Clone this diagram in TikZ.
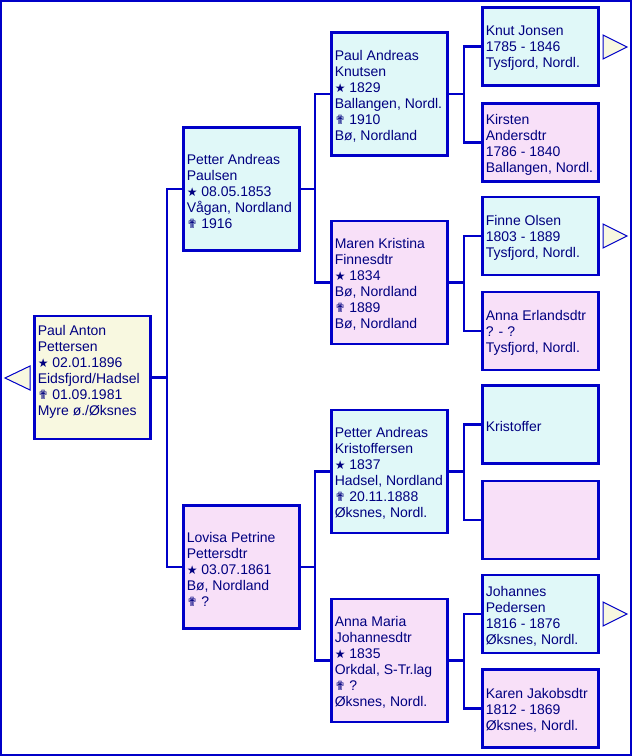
\documentclass[tikz,border=0pt]{standalone}
\usepackage{fontspec}
\setmainfont{Liberation Sans}
\newfontfamily\symfont{DejaVu Sans}
\definecolor{bordc}{HTML}{0000C8}
\definecolor{txtc}{HTML}{000080}
\definecolor{cyanf}{HTML}{E0F8F8}
\definecolor{pinkf}{HTML}{F8E0F8}
\definecolor{creamf}{HTML}{F8F8E0}
\newcommand{\bstar}{{\symfont\fontsize{9}{12}\selectfont ★}}
\newcommand{\dcross}{{\symfont\fontsize{9.5}{12}\selectfont ✟}}
\tikzset{
  bigbox/.style={draw=bordc, line width=1.9pt, minimum width=116*0.75pt, minimum height=123*0.75pt, inner sep=0pt},
  smallbox/.style={draw=bordc, line width=1.9pt, minimum width=116*0.75pt, minimum height=78*0.75pt, inner sep=0pt},
  ptxt/.style={anchor=west, align=left, inner sep=0pt, text=txtc, xshift=3.2pt, yshift=-1.5pt},
  conn/.style={draw=bordc, line width=1.9pt},
  tri/.style={draw=bordc, line width=0.75pt, fill=creamf},
}
\begin{document}
\begin{tikzpicture}[x=0.75pt, y=-0.75pt, font=\fontsize{10.5}{12}\selectfont]
\useasboundingbox (0,0) rectangle (632,756);
\draw[draw=bordc, line width=1.5pt] (1,1) rectangle (631,755);

% root
\node[bigbox, fill=creamf] (R) at (92.5,377.5) {};
\node[ptxt, yshift=6pt] (Rt) at (R.west) {Paul Anton\\Pettersen\\\bstar\ 02.01.1896\\Eidsfjord/Hadsel\\\dcross\ 01.09.1981\\Myre ø./Øksnes};

% generation 1
\node[bigbox, fill=cyanf] (F) at (241.5,189) {};
\node[ptxt] (Ft) at (F.west) {Petter Andreas\\Paulsen\\\bstar\ 08.05.1853\\Vågan, Nordland\\\dcross\ 1916};
\node[bigbox, fill=pinkf] (M) at (241.5,567) {};
\node[ptxt] (Mt) at (M.west) {Lovisa Petrine\\Pettersdtr\\\bstar\ 03.07.1861\\Bø, Nordland\\\dcross\ ?};

% generation 2
\node[bigbox, fill=cyanf] (FF) at (389.5,94) {};
\node[ptxt] (FFt) at (FF.west) {Paul Andreas\\Knutsen\\\bstar\ 1829\\Ballangen, Nordl.\\\dcross\ 1910\\Bø, Nordland};
\node[bigbox, fill=pinkf] (FM) at (389.5,282.5) {};
\node[ptxt] (FMt) at (FM.west) {Maren Kristina\\Finnesdtr\\\bstar\ 1834\\Bø, Nordland\\\dcross\ 1889\\Bø, Nordland};
\node[bigbox, fill=cyanf] (MF) at (389.5,471.5) {};
\node[ptxt] (MFt) at (MF.west) {Petter Andreas\\Kristoffersen\\\bstar\ 1837\\Hadsel, Nordland\\\dcross\ 20.11.1888\\Øksnes, Nordl.};
\node[bigbox, fill=pinkf] (MM) at (389.5,660.5) {};
\node[ptxt] (MMt) at (MM.west) {Anna Maria\\Johannesdtr\\\bstar\ 1835\\Orkdal, S-Tr.lag\\\dcross\ ?\\Øksnes, Nordl.};

% generation 3
\node[smallbox, fill=cyanf] (A1) at (540.5,46.5) {};
\node[ptxt] (A1t) at (A1.west) {Knut Jonsen\\1785 - 1846\\Tysfjord, Nordl.};
\node[smallbox, fill=pinkf] (A2) at (540.5,142.5) {};
\node[ptxt] (A2t) at (A2.west) {Kirsten\\Andersdtr\\1786 - 1840\\Ballangen, Nordl.};
\node[smallbox, fill=cyanf] (A3) at (540.5,236) {};
\node[ptxt] (A3t) at (A3.west) {Finne Olsen\\1803 - 1889\\Tysfjord, Nordl.};
\node[smallbox, fill=pinkf] (A4) at (540.5,331) {};
\node[ptxt] (A4t) at (A4.west) {Anna Erlandsdtr\\? - ?\\Tysfjord, Nordl.};
\node[smallbox, fill=cyanf] (A5) at (540.5,424.5) {};
\node[ptxt] (A5t) at (A5.west) {Kristoffer};
\node[smallbox, fill=pinkf] (A6) at (540.5,520) {};
\node[smallbox, fill=cyanf] (A7) at (540.5,614) {};
\node[ptxt] (A7t) at (A7.west) {Johannes\\Pedersen\\1816 - 1876\\Øksnes, Nordl.};
\node[smallbox, fill=pinkf] (A8) at (540.5,708.5) {};
\node[ptxt] (A8t) at (A8.west) {Karen Jakobsdtr\\1812 - 1869\\Øksnes, Nordl.};

% junctions
\coordinate (j0) at (167,377.5);
\coordinate (j1) at (315,189);
\coordinate (j2) at (315,567);
\coordinate (k1) at (464,94);
\coordinate (k2) at (464,282.5);
\coordinate (k3) at (464,471.5);
\coordinate (k4) at (464,660.5);

\draw[conn] (R.east) -- (j0);
\draw[conn] (F.west) -| (j0) |- (M.west);
\draw[conn] (F.east) -- (j1);
\draw[conn] (FF.west) -| (j1) |- (FM.west);
\draw[conn] (M.east) -- (j2);
\draw[conn] (MF.west) -| (j2) |- (MM.west);
\draw[conn] (FF.east) -- (k1);
\draw[conn] (A1.west) -| (k1) |- (A2.west);
\draw[conn] (FM.east) -- (k2);
\draw[conn] (A3.west) -| (k2) |- (A4.west);
\draw[conn] (MF.east) -- (k3);
\draw[conn] (A5.west) -| (k3) |- (A6.west);
\draw[conn] (MM.east) -- (k4);
\draw[conn] (A7.west) -| (k4) |- (A8.west);

% more-ancestor arrows
\draw[tri] (5,378) -- (30,366) -- (30,390) -- cycle;
\draw[tri] (603,35) -- (627,47) -- (603,59) -- cycle;
\draw[tri] (603,224) -- (627,236) -- (603,248) -- cycle;
\draw[tri] (603,602) -- (627,614) -- (603,626) -- cycle;
\end{tikzpicture}
\end{document}
